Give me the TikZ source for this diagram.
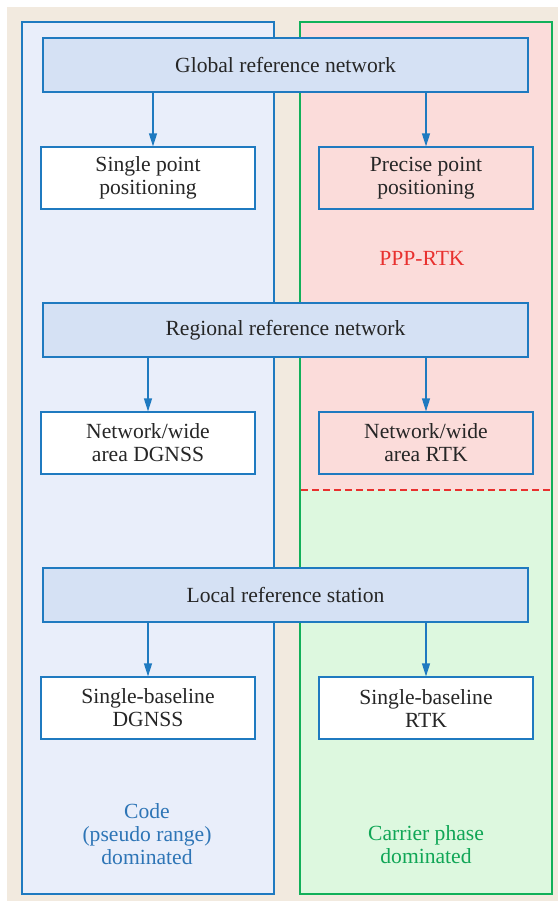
\documentclass[tikz,border=0pt]{standalone}
\usepackage{fontspec}
\setmainfont{Liberation Serif}
\usetikzlibrary{arrows.meta}
\definecolor{bgbeige}{HTML}{F2EADF}
\definecolor{codefill}{HTML}{E9EEFA}
\definecolor{codeblue}{HTML}{1F7AC0}
\definecolor{codetext}{HTML}{2E75B6}
\definecolor{pppfill}{HTML}{FBDCDA}
\definecolor{rtkfill}{HTML}{DDF8DF}
\definecolor{rtkgreen}{HTML}{12B05A}
\definecolor{rtktext}{HTML}{10A656}
\definecolor{pppred}{HTML}{E8302E}
\definecolor{netfill}{HTML}{D5E1F4}
\tikzset{
  every node/.style={font=\fontsize{21.6}{23}\selectfont, text=black!85},
  netbox/.style={draw=codeblue, line width=1.2pt, fill=netfill, minimum width=485pt, minimum height=54pt, inner sep=0pt},
  methodbox/.style={draw=codeblue, line width=1.2pt, minimum width=214pt, minimum height=62pt, inner sep=0pt, align=center},
  flow/.style={draw=codeblue, line width=1.2pt, -{Triangle[length=13pt,width=8pt]}},
}
\begin{document}
\begin{tikzpicture}[x=1pt,y=-1pt]
  \useasboundingbox (0,0) rectangle (558,902);
  % background
  \fill[bgbeige] (7,7) rectangle (558,901);
  % code-based column
  \filldraw[fill=codefill, draw=codeblue, line width=1.2pt] (22,22) rectangle (274,894);
  % carrier-phase column: PPP part above, RTK part below
  \fill[pppfill] (300,22) rectangle (552,490);
  \fill[rtkfill] (300,490) rectangle (552,894);
  \draw[rtkgreen, line width=1.2pt] (300,22) rectangle (552,894);
  \draw[pppred, line width=1.2pt, dash pattern=on 7pt off 4pt] (301,490) -- (551,490);

  % reference networks
  \node[netbox] (glob) at (285.5,65) {Global reference network};
  \node[netbox] (reg)  at (285.5,330) {Regional reference network};
  \node[netbox] (loc)  at (285.5,595) {Local reference station};

  % positioning methods
  \node[methodbox, fill=white] (spp)  at (148,178) {Single point\\positioning};
  \node[methodbox, fill=pppfill] (ppp) at (426,178) {Precise point\\positioning};
  \node[methodbox, fill=white] (ndg)  at (148,443) {Network/wide\\area DGNSS};
  \node[methodbox, fill=pppfill] (nrtk) at (426,443) {Network/wide\\area RTK};
  \node[methodbox, fill=white] (sdg)  at (148,708) {Single-baseline\\DGNSS};
  \node[methodbox, fill=white] (srtk) at (426,708) {Single-baseline\\RTK};

  % connectors
  \coordinate (g1) at (153,92);
  \coordinate (g2) at (426,92);
  \draw[flow] (g1) -- (g1 |- spp.north);
  \draw[flow] (g2) -- (g2 |- ppp.north);
  \draw[flow] (reg.south -| ndg) -- (ndg.north);
  \draw[flow] (reg.south -| nrtk) -- (nrtk.north);
  \draw[flow] (loc.south -| sdg) -- (sdg.north);
  \draw[flow] (loc.south -| srtk) -- (srtk.north);

  % region labels
  \node[text=pppred] (ppprtk) at (422,258) {PPP-RTK};
  \node[text=codetext, align=center] (codelab) at (147,834) {Code\\(pseudo range)\\dominated};
  \node[text=rtktext, align=center] (carlab) at (426,845) {Carrier phase\\dominated};
\end{tikzpicture}
\end{document}
